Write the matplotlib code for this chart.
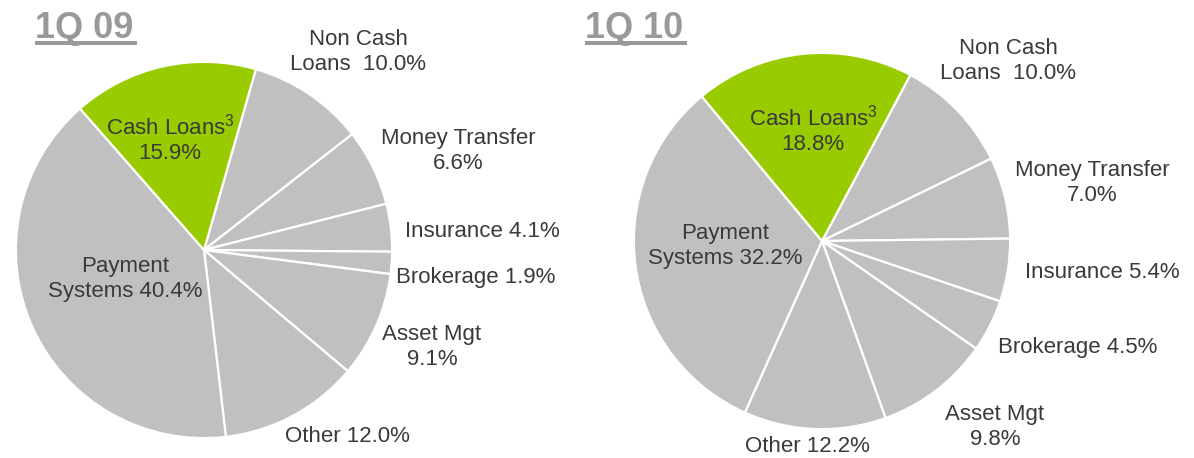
import matplotlib
matplotlib.use("Agg")
from matplotlib import pyplot as plt
from matplotlib.patches import Rectangle

plt.rcParams['font.family'] = ['Liberation Sans', 'DejaVu Sans']
plt.rcParams['mathtext.fontset'] = 'custom'
plt.rcParams['mathtext.rm'] = 'Liberation Sans'

W, H = 1194, 458

# Segment order runs clockwise from Non Cash Loans
segments = ["Non Cash Loans", "Money Transfer", "Insurance", "Brokerage",
            "Asset Mgt", "Other", "Payment Systems", "Cash Loans"]
share_09 = [10.0, 6.6, 4.1, 1.9, 9.1, 12.0, 40.4, 15.9]
share_10 = [10.0, 7.0, 5.4, 4.5, 9.8, 12.2, 32.2, 18.8]
titles = ["1Q 09", "1Q 10"]

label_fmt = ["Non Cash\nLoans  {:.1f}%", "Money Transfer\n{:.1f}%", "Insurance {:.1f}%",
             "Brokerage {:.1f}%", "Asset Mgt\n{:.1f}%", "Other {:.1f}%",
             "Payment\nSystems {:.1f}%", "Cash Loans$^{{3}}$\n{:.1f}%"]

GREY = "#C0C0C0"
GREEN = "#99CC00"
TEXT = "#3A3A3A"
TITLE = "#999999"

# pixel layout: pie centre, radius, start angle, label centres, title left edge
layouts = [
    dict(cx=204, cy=250, r=190, start=74,
         labels=[(358, 52), (458, 151), (482, 232), (476, 277), (432, 347),
                 (347, 437), (125, 279), (170, 139)],
         title_x=35),
    dict(cx=822, cy=241, r=190, start=62,
         labels=[(1008, 61), (1092, 183), (1102, 273), (1078, 348), (995, 427),
                 (807, 446), (725, 246), (813, 130)],
         title_x=585),
]

fig = plt.figure(figsize=(W / 100, H / 100), dpi=100)


def px(x, y):
    return x / W, 1 - y / H


for shares, title, lay in zip([share_09, share_10], titles, layouts):
    r = lay["r"]
    ax = fig.add_axes([(lay["cx"] - r) / W, (H - lay["cy"] - r) / H, 2 * r / W, 2 * r / H])
    colors = [GREY] * (len(segments) - 1) + [GREEN]
    ax.pie(shares, colors=colors, startangle=lay["start"], counterclock=False,
           radius=1.0, wedgeprops=dict(edgecolor="white", linewidth=1.6))
    ax.set_xlim(-1.01, 1.01)
    ax.set_ylim(-1.01, 1.01)
    ax.set_aspect("equal")
    ax.axis("off")

    for fmt, val, (lx, ly) in zip(label_fmt, shares, lay["labels"]):
        fig.text(*px(lx, ly), fmt.format(val), ha="center", va="center",
                 multialignment="center", fontsize=16, color=TEXT, linespacing=1.25)

    # underlined period title
    t = fig.text(*px(lay["title_x"], 38), title, ha="left", va="baseline",
                 fontsize=26, fontweight="bold", color=TITLE)
    fig.add_artist(Rectangle(px(lay["title_x"], 45), 102 / W, 4 / H,
                             transform=fig.transFigure, color=TITLE, lw=0))

fig.savefig("out.png", dpi=100)
